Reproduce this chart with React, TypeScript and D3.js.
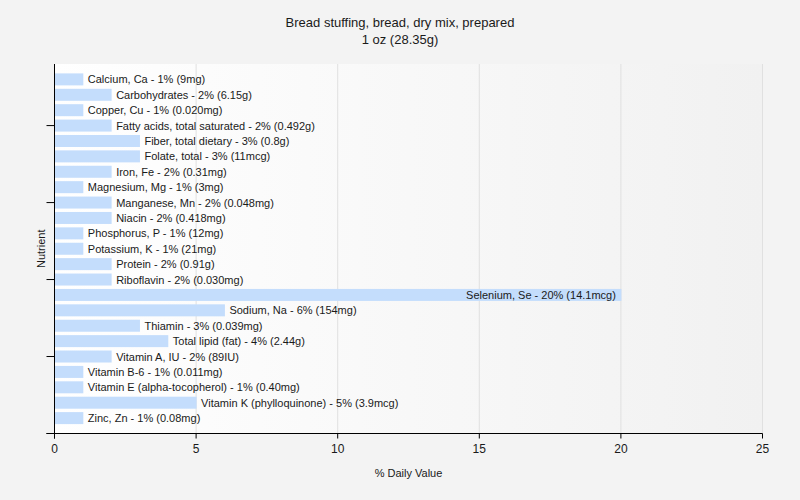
import React from "react";
import * as d3 from "d3";

const title1 = "Bread stuffing, bread, dry mix, prepared";
const title2 = "1 oz (28.35g)";

const nutrients = [
  "Calcium, Ca", "Carbohydrates", "Copper, Cu", "Fatty acids, total saturated",
  "Fiber, total dietary", "Folate, total", "Iron, Fe", "Magnesium, Mg",
  "Manganese, Mn", "Niacin", "Phosphorus, P", "Potassium, K", "Protein",
  "Riboflavin", "Selenium, Se", "Sodium, Na", "Thiamin", "Total lipid (fat)",
  "Vitamin A, IU", "Vitamin B-6", "Vitamin E (alpha-tocopherol)",
  "Vitamin K (phylloquinone)", "Zinc, Zn",
];
const dailyValues = [1, 2, 1, 2, 3, 3, 2, 1, 2, 2, 1, 1, 2, 2, 20, 6, 3, 4, 2, 1, 1, 5, 1];
const amounts = [
  "9mg", "6.15g", "0.020mg", "0.492g", "0.8g", "11mcg", "0.31mg", "3mg",
  "0.048mg", "0.418mg", "12mg", "21mg", "0.91g", "0.030mg", "14.1mcg", "154mg",
  "0.039mg", "2.44g", "89IU", "0.011mg", "0.40mg", "3.9mcg", "0.08mg",
];
const xTicks = [0, 5, 10, 15, 20, 25];
const yTicks = [0, 5, 10, 15, 20];

const W = 800, H = 500;
const left = 54.5, right = 762.5, top = 64, bottom = 433.5;
const font = "'Liberation Sans', Arial, sans-serif";

export default function App() {
  const x = d3.scaleLinear().domain([0, 25]).range([left, right]);
  const n = nutrients.length;
  const y = d3.scaleLinear().domain([0, n + 1]).range([bottom, top]);
  const barH = 12;
  const measure = (s: string) => s.length * 5.6;

  return (
    <svg width={W} height={H} style={{ position: "absolute", left: 0, top: 0, background: "#f3f3f3" }}>
      <defs>
        <linearGradient id="bg" x1="0" x2="1" y1="0" y2="0">
          <stop offset="0" stopColor="#ffffff" />
          <stop offset="1" stopColor="#f1f1f1" />
        </linearGradient>
      </defs>
      <rect x={0} y={0} width={W} height={H} fill="#f3f3f3" />
      <rect x={left} y={top} width={right - left} height={bottom - top} fill="url(#bg)" />
      {xTicks.slice(1).map((t) => (
        <line key={t} x1={x(t)} x2={x(t)} y1={top} y2={bottom} stroke="#e0e0e0" strokeWidth={1} />
      ))}
      {nutrients.map((name, i) => {
        const v = dailyValues[i];
        const cy = y(n - i);
        const label = `${name} - ${v}% (${amounts[i]})`;
        const xe = x(v);
        const fits = xe + 5 + measure(label) < right;
        return (
          <g key={name}>
            <rect x={x(0) + 0.5} y={cy - barH / 2} width={xe - x(0)} height={barH} fill="#c4ddfc" />
            <text
              x={fits ? xe + 5 : xe - 5}
              y={cy + 4}
              fontFamily={font}
              fontSize={11}
              fill="#1a1a1a"
              textAnchor={fits ? "start" : "end"}
            >
              {label}
            </text>
          </g>
        );
      })}
      <line x1={left} x2={left} y1={top} y2={bottom + 5} stroke="#000" />
      <line x1={left - 8} x2={right} y1={bottom} y2={bottom} stroke="#000" />
      {yTicks.map((t) => (
        <line key={t} x1={left - 8} x2={left} y1={y(t)} y2={y(t)} stroke="#000" />
      ))}
      {xTicks.map((t) => (
        <g key={t}>
          <line x1={x(t)} x2={x(t)} y1={bottom} y2={bottom + 5} stroke="#000" />
          <text x={x(t)} y={bottom + 19} textAnchor="middle" fontFamily={font} fontSize={12} fill="#1a1a1a">
            {t}
          </text>
        </g>
      ))}
      <text x={(left + right) / 2} y={477} textAnchor="middle" fontFamily={font} fontSize={11} fill="#1a1a1a">
        % Daily Value
      </text>
      <text
        transform={`translate(45, ${(top + bottom) / 2}) rotate(-90)`}
        textAnchor="middle"
        fontFamily={font}
        fontSize={11}
        fill="#1a1a1a"
      >
        Nutrient
      </text>
      <text x={400} y={27} textAnchor="middle" fontFamily={font} fontSize={13} fill="#1a1a1a">
        {title1}
      </text>
      <text x={400} y={44} textAnchor="middle" fontFamily={font} fontSize={13} fill="#1a1a1a">
        {title2}
      </text>
    </svg>
  );
}
